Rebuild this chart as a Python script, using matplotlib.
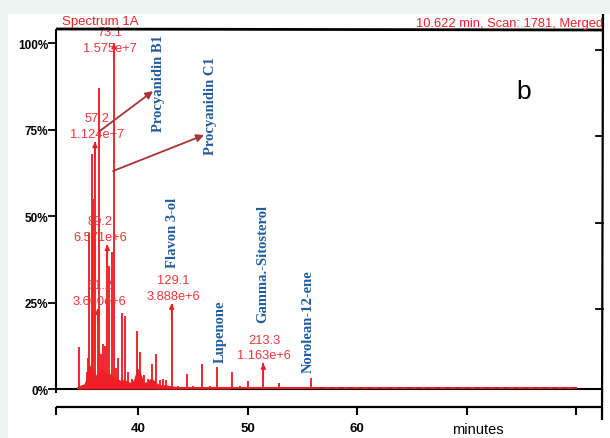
import matplotlib
matplotlib.use('Agg')
import matplotlib.pyplot as plt
from matplotlib.patches import Rectangle
from matplotlib.lines import Line2D
import matplotlib.transforms as mtransforms

# ---------------- data ----------------
peak_times = [34.59, 35.25, 35.41, 35.52, 35.72, 35.87, 36.02, 36.27, 36.39, 36.57,
              36.78, 36.94, 37.15, 37.33, 37.55, 37.76, 37.99, 38.15, 38.46, 38.77,
              39.04, 39.41, 39.89, 40.14, 40.50, 40.87, 41.21, 41.57, 41.97, 42.24,
              42.51, 43.03, 43.61, 44.41, 44.98, 45.85, 46.54, 47.20, 47.72, 48.57,
              49.28, 49.98, 51.41, 52.84, 55.74]
peak_heights = [12, 5, 9, 45, 68, 55, 71.4, 23.2, 87, 10,
                13, 12.5, 41.7, 35.6, 39.5, 100, 6, 9, 22, 21,
                5, 3, 16.9, 10.6, 4, 3, 7.2, 10, 2.5, 3,
                2.5, 24.7, 1, 4.3, 1, 7.2, 1, 6.4, 0.6, 5,
                1, 2.4, 7.38, 1.7, 3.1]

envelope_times = [34.47, 34.56, 35.02, 35.20, 35.38, 35.57, 35.75, 35.93, 36.12, 36.30,
                  36.48, 36.66, 36.84, 37.03, 37.21, 37.39, 37.58, 37.76, 37.94, 38.13,
                  38.31, 38.49, 38.67, 38.86, 39.04, 39.22, 39.41, 39.59, 39.77, 39.95,
                  40.14, 40.32, 40.50, 40.69, 40.87, 41.05, 41.23, 41.42, 41.60, 41.78,
                  42.15, 42.51, 42.88, 43.34, 43.79, 45.62, 48.36]
envelope_heights = [0, 1.0, 1.5, 3, 6, 7, 5, 6, 4, 5,
                    5, 6, 5, 5, 4, 4.5, 4, 3.5, 3, 3,
                    2.5, 3, 2.5, 2.5, 2, 2, 2, 3, 5, 6,
                    5, 3.5, 2, 2, 2.5, 3, 3, 2.5, 2, 1.5,
                    1.2, 1.2, 1, 0.8, 0.6, 0.5, 0.3]

baseline_start, baseline_end = 34.47, 80.0

ann_times = [37.76, 36.02, 37.15, 36.27, 43.03, 51.41]
ann_heights = [100, 71.4, 41.7, 23.2, 24.7, 7.38]
ann_mz = ['73.1', '57.2', '89.2', '61.2', '129.1', '213.3']
ann_abund = ['1.575e+7', '1.124e+7', '6.571e+6', '3.660e+6', '3.888e+6', '1.163e+6']

compound_names = ['Procyanidin B1', 'Procyanidin C1', 'Flavon 3-ol', 'Lupenone',
                  'Gamma.-Sitosterol', 'Norolean-12-ene']
compound_times = [41.87, 46.54, 43.15, 47.45, 51.38, 55.50]
compound_levels = [74.6, 67.9, 35.3, 7.8, 19.4, 4.9]

pointer_starts = [(36.48, 74.6), (37.67, 63.0)]
pointer_ends = [(41.33, 86.1), (45.99, 73.4)]

y_ticks = [0, 25, 50, 75, 100]
y_ticklabels = ['0%', '25%', '50%', '75%', '100%']
x_ticks = [40, 50, 60, 70, 80]
x_ticklabels = ['40', '50', '60', '', '']

# ---------------- layout ----------------
W, H = 610, 439
RED = '#ee1f26'
LABEL_RED = '#f0353a'
BLUE = '#1f5c9e'
BROWN = '#a83236'
MINT = '#edf4f1'

fig = plt.figure(figsize=(W / 100, H / 100), dpi=100, facecolor='white')

def fx(px):
    return px / W

def fy(py):
    return 1 - py / H

L, R, T, B = 56, 602, 30, 408
ax = fig.add_axes([fx(L), fy(B), (R - L) / W, (B - T) / H])
ax.set_xlim(32.46, 82.37)
ax.set_ylim(-5.2, 104.05)
for s in ax.spines.values():
    s.set_visible(False)
ax.patch.set_alpha(0)

# zero line
ax.axhline(0, color='black', lw=1.5, zorder=1)

# envelope fill and peaks
ax.fill_between(envelope_times, 0, envelope_heights, color=RED, lw=0, zorder=2)
ax.vlines(peak_times, 0, peak_heights, color=RED, lw=1.35, zorder=3)
ax.plot([baseline_start, baseline_end], [0.3, 0.3], color=RED, lw=1.5, zorder=3)
ax.plot([56.5, baseline_end], [0.3, 0.3], color='#333333', lw=1.0, alpha=0.55,
        dashes=(3, 4), zorder=4)

# annotation arrows and labels
label_dx_px = {'73.1': -4, '57.2': 2, '89.2': -7, '61.2': 2, '129.1': 2, '213.3': 1}
label_dy_px = {'73.1': -13}
for t, h, mz, ab in zip(ann_times, ann_heights, ann_mz, ann_abund):
    ax.annotate('', xy=(t, h), xytext=(t, h - 4.5),
                arrowprops=dict(arrowstyle='-|>', color=RED, lw=1.1,
                                mutation_scale=7, shrinkA=0, shrinkB=0), zorder=5)
    dx = label_dx_px.get(mz, 0) * 0.72
    dy = (label_dy_px.get(mz, 0) + 2) * 0.72
    ax.annotate(f'{mz}\n{ab}', xy=(t, h), xytext=(dx, dy), textcoords='offset points',
                ha='center', va='bottom', color=LABEL_RED, fontsize=9.3,
                family='Liberation Sans', linespacing=1.4, zorder=6)

# compound names
for name, t, lvl in zip(compound_names, compound_times, compound_levels):
    ax.text(t, lvl, name, rotation=90, ha='center', va='bottom', color=BLUE,
            family='Liberation Serif', weight='bold', fontsize=10.5, zorder=6)

for (x0, y0), (x1, y1) in zip(pointer_starts, pointer_ends):
    ax.annotate('', xy=(x1, y1), xytext=(x0, y0),
                arrowprops=dict(arrowstyle='-|>', color=BROWN, lw=1.3,
                                mutation_scale=11, shrinkA=0, shrinkB=0), zorder=6)

# ticks
ax.set_yticks(y_ticks)
ax.set_yticklabels(y_ticklabels, family='Liberation Sans', weight='bold', fontsize=8.5)
ax.set_xticks(x_ticks)
ax.set_xticklabels(x_ticklabels, family='Liberation Sans', weight='bold', fontsize=9.5)
ax.tick_params(axis='y', direction='out', length=6, width=1.3, pad=-0.5, left=True)
ax.tick_params(axis='x', direction='out', length=6, width=1.5, pad=5)

# right-side inward ticks
trans_r = mtransforms.blended_transform_factory(ax.transAxes, ax.transData)
for v in y_ticks[1:]:
    ax.plot([1.0 - 6 / (R - L), 1.002], [v - 2, v - 2], color='black', lw=1.3,
            transform=trans_r, clip_on=False)

# frame lines in figure pixels
def fline(x0, y0, x1, y1, lw):
    fig.add_artist(Line2D([fx(x0), fx(x1)], [fy(y0), fy(y1)], color='black', lw=lw,
                          solid_capstyle='butt', zorder=3))

fline(L, T, 604, T + 1, 2.0)         # top
fline(603, 14, 602, 421, 1.6)        # right
fline(L, T, L, 394, 1.5)             # left
fline(L, B, 603, B, 1.6)             # bottom axis
fline(L, B, L, 416, 1.5)             # left end tick of bottom axis

# texts
fig.text(fx(62), fy(22), 'Spectrum 1A', color=RED, fontsize=9.5,
         family='Liberation Sans', ha='left', va='center')
fig.text(fx(603), fy(24), '10.622 min, Scan: 1781, Merged', color=RED, fontsize=9.3,
         family='Liberation Sans', ha='right', va='center')
fig.text(fx(524), fy(92), 'b', color='black', fontsize=19,
         family='Liberation Sans', ha='center', va='center')
fig.text(fx(478), fy(430), 'minutes', color='black', fontsize=10.5,
         family='Liberation Sans', ha='center', va='center')

# outer mint border (drawn on top)
fig.add_artist(Rectangle((0, fy(15)), 1, 1 - fy(15), transform=fig.transFigure,
                         facecolor=MINT, edgecolor='none', zorder=20))
fig.add_artist(Rectangle((0, 0), fx(8), 1, transform=fig.transFigure,
                         facecolor=MINT, edgecolor='none', zorder=20))

fig.savefig('out.png', dpi=100)
